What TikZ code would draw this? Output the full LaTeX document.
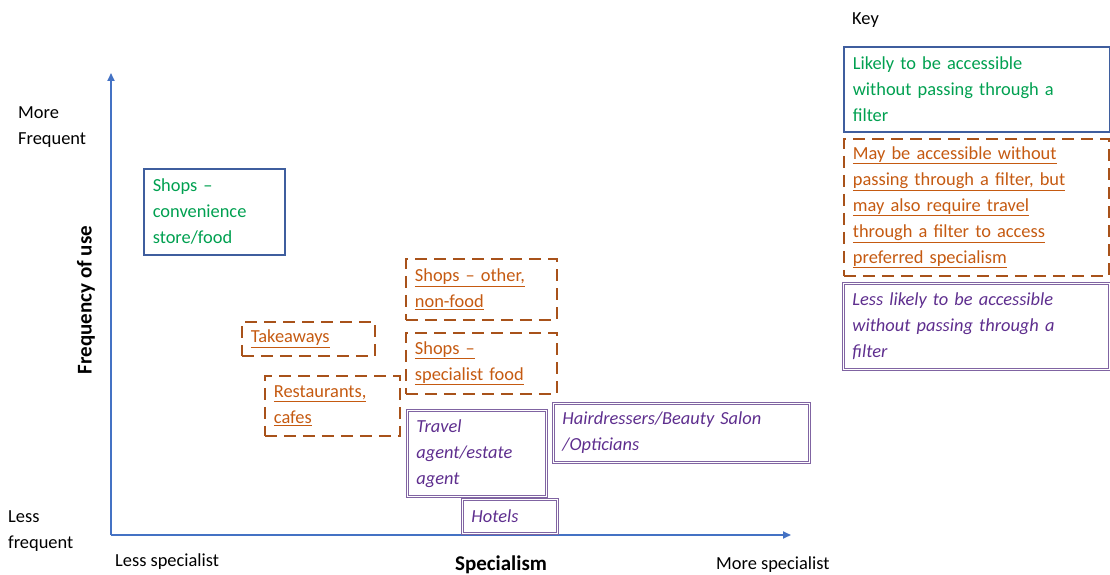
\documentclass[tikz,border=0pt]{standalone}
\usepackage{fontspec}
\setmainfont{Carlito}
\usetikzlibrary{arrows.meta}
\definecolor{axisblue}{HTML}{4472C4}
\definecolor{boxblue}{HTML}{3F5E9E}
\definecolor{txtgreen}{HTML}{00A050}
\definecolor{txtbrown}{HTML}{C55A11}
\definecolor{dashbrown}{HTML}{A8521A}
\definecolor{txtpurple}{HTML}{5E2E8E}
\definecolor{boxpurple}{HTML}{8064A2}
\tikzset{
  base/.style={font=\fontsize{18.4}{26}\selectfont, align=left, inner xsep=9pt, inner ysep=0pt, anchor=north west},
  greenbox/.style={base, draw=boxblue, line width=1.6pt, text=txtgreen},
  brownbox/.style={base, draw=dashbrown, line width=1.8pt, dash pattern=on 12pt off 7pt, text=txtbrown},
  purplebox/.style={base, draw=boxpurple, double=white, double distance=1.2pt, line width=0.9pt, text=txtpurple, font=\fontsize{18.4}{26}\selectfont\itshape},
  axis/.style={draw=axisblue, line width=1.8pt, -{Triangle[length=8pt,width=7pt]}},
  lbl/.style={font=\fontsize{18.4}{26}\selectfont, align=left, inner sep=0pt},
  boldlbl/.style={font=\fontsize{21}{26}\selectfont\bfseries, inner sep=0pt}
}
\newcommand{\ul}[1]{\underline{#1}}
\begin{document}
\begin{tikzpicture}[x=1pt,y=-1pt]
\useasboundingbox (0,0) rectangle (1110,575);
% axes
\coordinate (origin) at (111,535);
\coordinate (ytip) at (111,73);
\coordinate (xtip) at (791,535);
\draw[axis] (origin) -- (ytip);
\draw[axis] (origin) -- (xtip);
% axis labels
\node[lbl, anchor=west] (more) at (18,127) {More\\Frequent};
\node[lbl, anchor=west] (lessf) at (8,531) {Less\\frequent};
\node[boldlbl, rotate=90] (freq) at (86,300) {Frequency of use};
\node[lbl, anchor=west] (lesss) at (115,562) {Less specialist};
\node[boldlbl] (spec) at (501,565) {Specialism};
\node[lbl, anchor=west] (mores) at (716,565) {More specialist};
\node[lbl, anchor=west] (key) at (852,20) {Key};
% key boxes
\node[greenbox, text width=248pt, minimum height=85pt] (k1) at (843,46) {Likely to be accessible\\without passing through a\\filter};
\node[brownbox, text width=247pt, minimum height=137pt] (k2) at (843,138) {\ul{May be accessible without}\\\ul{passing through a filter, but}\\\ul{may also require travel}\\\ul{through a filter to access}\\\ul{preferred specialism}};
\node[purplebox, text width=248pt, minimum height=86pt] (k3) at (843,283) {Less likely to be accessible\\without passing through a\\filter};
% diagram boxes
\node[greenbox, text width=123pt, minimum height=86pt] (conv) at (143,168) {Shops --\\convenience\\store/food};
\node[brownbox, text width=115pt, minimum height=34pt] (take) at (241,321) {\ul{Takeaways}};
\node[brownbox, text width=117pt, minimum height=60pt] (rest) at (264,375) {\ul{Restaurants,}\\\ul{cafes}};
\node[brownbox, text width=133pt, minimum height=61pt] (other) at (405,258) {\ul{Shops -- other,}\\\ul{non-food}};
\node[brownbox, text width=133pt, minimum height=61pt] (specf) at (405,332) {\ul{Shops --}\\\ul{specialist food}};
\node[purplebox, text width=121pt, minimum height=86pt] (travel) at (407,410) {Travel\\agent/estate\\agent};
\node[purplebox, text width=238pt, minimum height=59pt] (hair) at (553,403) {Hairdressers/Beauty Salon\\/Opticians};
\node[purplebox, text width=77pt, minimum height=34pt] (hotels) at (462,499) {Hotels};
\end{tikzpicture}
\end{document}
